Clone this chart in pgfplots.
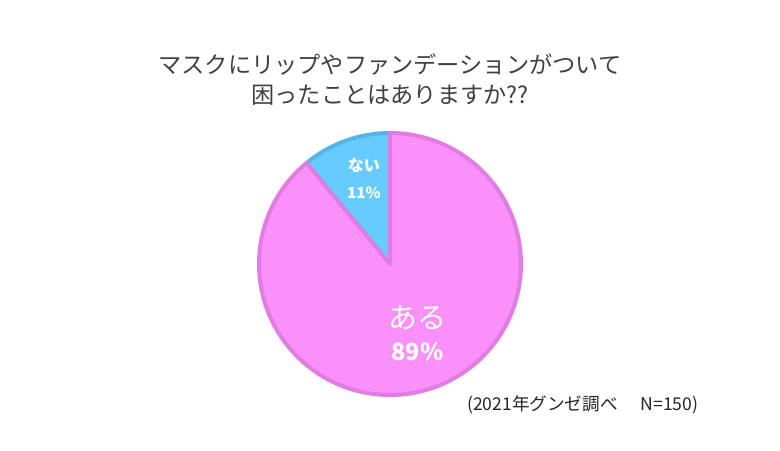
\documentclass[border=0pt]{standalone}
\usepackage{pgfplots}
\pgfplotsset{compat=1.18}
\usepackage{pgfplotstable}
\usepackage{fontspec}
\setmainfont{Noto Sans CJK JP}

\definecolor{pinkfill}{HTML}{FB90FB}
\definecolor{pinkline}{HTML}{E07CE2}
\definecolor{bluefill}{HTML}{66CCFF}
\definecolor{blueline}{HTML}{55B6E6}
\definecolor{titlegray}{HTML}{404040}

% share of answers, percent
\pgfplotstableread{
value
89
11
}\piedata
\pgfplotstablegetelem{0}{value}\of\piedata \let\yes\pgfplotsretval
\pgfplotstablegetelem{1}{value}\of\piedata \let\no\pgfplotsretval

\begin{document}
\begin{tikzpicture}
\path[fill=white, use as bounding box] (0,0) rectangle (390pt,225pt);

\node[titlegray, font=\fontsize{11.6pt}{13pt}\selectfont] at (195pt,192.5pt)
  {マスクにリップやファンデーションがついて};
\node[titlegray, font=\fontsize{11.6pt}{13pt}\selectfont] at (195pt,177.5pt)
  {困ったことはありますか??};

\begin{axis}[
    at={(195pt,93pt)}, anchor=center,
    width=131pt, height=131pt, scale only axis,
    xmin=-1, xmax=1, ymin=-1, ymax=1,
    hide axis, clip=false,
  ]
  \pgfmathsetmacro{\a}{90+3.6*\no}
  \filldraw[fill=bluefill, draw=blueline, line width=2pt, line join=round]
    (axis cs:0,0) -- (axis cs:0,1) arc[start angle=90, end angle=\a, radius=65.5pt] -- cycle;
  \filldraw[fill=pinkfill, draw=pinkline, line width=2pt, line join=round]
    (axis cs:0,0) -- (axis cs:{cos(\a)},{sin(\a)}) arc[start angle=\a, end angle=450, radius=65.5pt] -- cycle;

  \node[white, font=\fontsize{8pt}{9pt}\selectfont\bfseries] at (axis cs:-0.2,0.75) {ない};
  \node[white, font=\fontsize{7.6pt}{8pt}\selectfont\bfseries] at (axis cs:-0.2,0.54) {\no\%};
  \node[white, font=\fontsize{14.5pt}{16pt}\selectfont] at (axis cs:0.21,-0.41) {ある};
  \node[white, font=\fontsize{11.8pt}{13pt}\selectfont\bfseries] at (axis cs:0.21,-0.67) {\yes\%};
\end{axis}

\node[anchor=west, black!85, font=\fontsize{8.8pt}{10pt}\selectfont] at (230pt,22.5pt)
  {(2021年グンゼ調べ\hspace{1.3em}N=150)};
\end{tikzpicture}
\end{document}
